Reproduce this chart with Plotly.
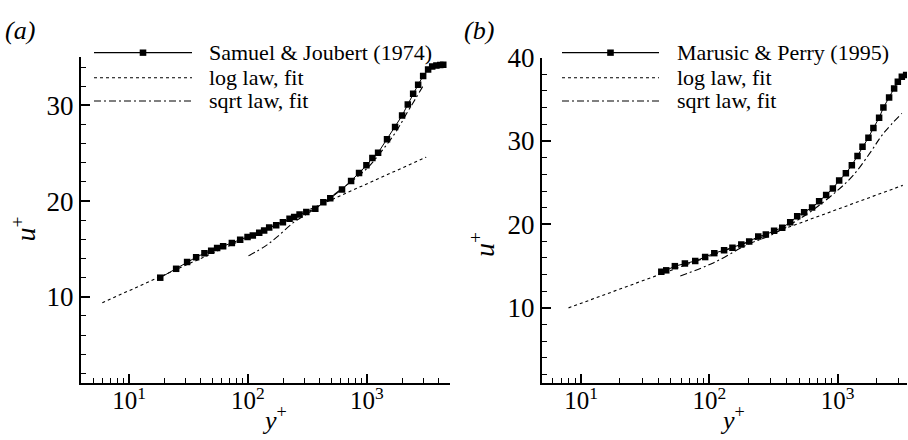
import plotly.graph_objects as go

# Samuel & Joubert (1974) mean velocity profile
sj_yplus = [18.3, 24.9, 30.8, 36.7, 43.1, 49.1, 55.1, 61.9, 73.3, 86.1, 99.3, 110, 124.5,
            137, 151, 173, 197, 224, 245, 272, 310, 369, 431, 493, 619, 738, 861, 993,
            1115, 1245, 1480, 1730, 1982, 2213, 2455, 2705, 2980, 3280, 3550, 3850, 4150, 4400]
sj_uplus = [12.0, 12.93, 13.64, 14.14, 14.55, 14.82, 15.09, 15.29, 15.63, 15.96, 16.26, 16.4,
            16.7, 16.94, 17.24, 17.47, 17.8, 18.15, 18.35, 18.59, 18.86, 19.19, 19.87, 20.3,
            21.21, 22.09, 22.93, 23.74, 24.49, 25.05, 26.45, 27.75, 28.93, 30.1, 31.2, 32.16,
            33.07, 33.75, 34.05, 34.17, 34.22, 34.25]

# Marusic & Perry (1995) mean velocity profile
mp_yplus = [42.1, 46.0, 53.7, 64.3, 77.4, 92.5, 109, 130, 151, 177, 204, 240, 275, 319, 369,
            426, 483, 547, 631, 716, 812, 916, 1026, 1157, 1288, 1426, 1560, 1735, 1897, 2102,
            2270, 2515, 2752, 2941, 3160, 3415]
mp_uplus = [14.33, 14.5, 15.0, 15.32, 15.62, 16.09, 16.56, 16.91, 17.22, 17.61, 17.96, 18.55,
            18.78, 19.25, 19.6, 20.27, 20.99, 21.45, 22.03, 22.77, 23.53, 24.31, 25.27, 26.12,
            27.1, 28.2, 29.3, 30.4, 31.55, 32.77, 34.0, 35.2, 36.3, 37.1, 37.7, 37.9]

# log-law fits (straight lines on the semi-log axes)
loga_yplus = [5.96, 3162]
loga_uplus = [9.39, 24.59]
logb_yplus = [7.96, 3214]
logb_uplus = [10.0, 24.68]

# sqrt-law fits
sqa_yplus = [101, 140, 175, 241, 314, 420, 560, 750, 1000, 1350, 1750, 2200, 2600, 3000]
sqa_uplus = [14.28, 15.3, 16.23, 17.75, 18.66, 19.7, 20.9, 22.1, 23.4, 25.3, 27.2, 29.3, 30.8, 32.1]
sqb_yplus = [59.2, 107, 195, 300, 450, 650, 984, 1324, 1791, 2270, 3160]
sqb_uplus = [13.83, 15.39, 17.54, 18.7, 20.2, 21.8, 24.0, 25.9, 28.6, 30.9, 33.3]

xtick_vals = [10, 100, 1000]
xtick_text = ["10<sup>1</sup>", "10<sup>2</sup>", "10<sup>3</sup>"]

SERIF = "Liberation Serif"
DOT = "3px,3px"
DASHDOT = "7px,3px,2px,3px"

fig = go.Figure()

def add_panel(fig, xa, ya, dy, du, ly, lu, sy, su):
    fig.add_trace(go.Scatter(x=ly, y=lu, mode="lines", xaxis=xa, yaxis=ya,
                             line=dict(color="black", width=1.1, dash=DOT), showlegend=False))
    fig.add_trace(go.Scatter(x=sy, y=su, mode="lines", xaxis=xa, yaxis=ya, line_shape="spline",
                             line=dict(color="black", width=1.1, dash=DASHDOT), showlegend=False))
    fig.add_trace(go.Scatter(x=dy, y=du, mode="lines+markers", xaxis=xa, yaxis=ya,
                             line=dict(color="black", width=1),
                             marker=dict(symbol="square", size=6.5, color="black"),
                             showlegend=False))

add_panel(fig, "x", "y", sj_yplus, sj_uplus, loga_yplus, loga_uplus, sqa_yplus, sqa_uplus)
add_panel(fig, "x2", "y2", mp_yplus, mp_uplus, logb_yplus, logb_uplus, sqb_yplus, sqb_uplus)

W, H = 908, 440

def px_x(p):
    return p / W

def px_y(p):
    return 1 - p / H

minor_vals = [m * 10 ** k for k in range(0, 4) for m in range(2, 10)]

common_x = dict(type="log", showline=True, linewidth=2, linecolor="black", mirror=False,
                showgrid=False, zeroline=False, ticks="inside", ticklen=9, tickwidth=1.5,
                tickcolor="black", tickmode="array", tickvals=xtick_vals, ticktext=xtick_text,
                ticklabelstandoff=-6,
                tickfont=dict(family=SERIF, size=25, color="black"),
                minor=dict(ticks="inside", ticklen=5, tickwidth=1.2, tickcolor="black",
                           tickmode="array", tickvals=minor_vals, showgrid=False))
common_y = dict(showline=True, linewidth=2, linecolor="black", mirror=False, showgrid=False,
                zeroline=False, ticks="inside", ticklen=9, tickwidth=1.5, tickcolor="black",
                tick0=0, dtick=10,
                tickfont=dict(family=SERIF, size=27, color="black"),
                minor=dict(ticks="inside", ticklen=5, tickwidth=1.2, tickcolor="black",
                           dtick=2, showgrid=False))

fig.update_layout(
    width=W, height=H, margin=dict(l=0, r=0, t=0, b=0),
    paper_bgcolor="white", plot_bgcolor="white", showlegend=False,
    xaxis=dict(common_x, domain=[px_x(81), px_x(450)], range=[0.596, 3.70], anchor="y"),
    yaxis=dict(common_y, domain=[px_y(381), px_y(43)], range=[1, 35.1], anchor="x"),
    xaxis2=dict(common_x, domain=[px_x(542), px_x(907)], range=[0.694, 3.54], anchor="y2"),
    yaxis2=dict(common_y, domain=[px_y(381), px_y(44)], range=[1, 40], anchor="x2"),
)

shapes = []
annotations = []

# hand-built legends: sample line + label for each panel
def legend(x0, x1, xtext, label):
    rows = [(39, "solid", label), (65, DOT, "log law, fit"), (89, DASHDOT, "sqrt law, fit")]
    for yy, dash, text in rows:
        shapes.append(dict(type="line", xref="paper", yref="paper",
                           x0=px_x(x0), x1=px_x(x1), y0=px_y(yy), y1=px_y(yy),
                           line=dict(color="black", width=1.1, dash=dash)))
        annotations.append(dict(xref="paper", yref="paper", x=px_x(xtext), y=px_y(yy),
                                xanchor="left", yanchor="middle", showarrow=False, text=text,
                                font=dict(family=SERIF, size=22, color="black")))
    xm = (x0 + x1) / 2
    shapes.append(dict(type="rect", xref="paper", yref="paper",
                       x0=px_x(xm - 3.3), x1=px_x(xm + 3.3), y0=px_y(39 + 3.3), y1=px_y(39 - 3.3),
                       fillcolor="black", line=dict(width=0)))

legend(94, 192, 207, "Samuel &amp; Joubert (1974)")
legend(562, 659, 675, "Marusic &amp; Perry (1995)")

# panel tags
annotations.append(dict(xref="paper", yref="paper", x=px_x(3), y=px_y(16), xanchor="left",
                        yanchor="middle", showarrow=False, text="<i>(a)</i>",
                        font=dict(family=SERIF, size=26, color="black")))
annotations.append(dict(xref="paper", yref="paper", x=px_x(462), y=px_y(16), xanchor="left",
                        yanchor="middle", showarrow=False, text="<i>(b)</i>",
                        font=dict(family=SERIF, size=26, color="black")))

# axis titles
for xc in (274, 732):
    annotations.append(dict(xref="paper", yref="paper", x=px_x(xc), y=px_y(418),
                            xanchor="center", yanchor="middle", showarrow=False,
                            text="<i>y</i><sup>+</sup>",
                            font=dict(family=SERIF, size=26, color="black")))
for xc, yc in ((24, 222), (483, 238)):
    annotations.append(dict(xref="paper", yref="paper", x=px_x(xc), y=px_y(yc),
                            xanchor="center", yanchor="middle", showarrow=False, textangle=-90,
                            text="<i>u</i><sup>+</sup>",
                            font=dict(family=SERIF, size=28, color="black")))

fig.update_layout(shapes=shapes, annotations=annotations)

fig.write_html("out.html")
